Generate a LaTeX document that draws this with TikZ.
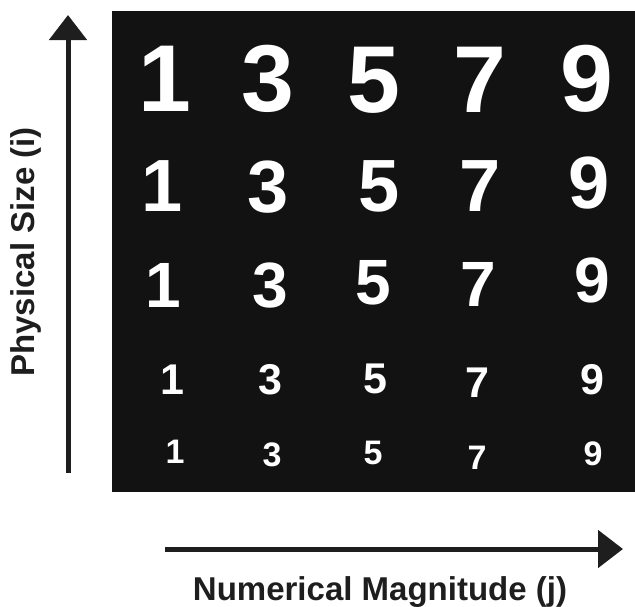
\documentclass[tikz,border=0pt]{standalone}
\usepackage{fontspec}
\setmainfont{Liberation Sans}
\usepackage{tikz}
\usetikzlibrary{arrows.meta}

\definecolor{boardblack}{HTML}{121212}
\definecolor{axisgray}{HTML}{1E1E1E}

\tikzset{
  digit/.style={text=white, inner sep=0pt, font=\bfseries\fontsize{#1}{#1}\selectfont},
  axislabel/.style={text=axisgray, inner sep=0pt, font=\bfseries\fontsize{33}{33}\selectfont},
  axisarrow/.style={line width=5pt, color=axisgray, -{Triangle[width=37pt,length=25pt]}},
}

\begin{document}
\begin{tikzpicture}[x=1pt, y=-1pt]

\useasboundingbox (0,0) rectangle (635,606);

\fill[boardblack] (112,11) rectangle (635,492);

%\foreach \r in {1,...,5} ...
\foreach \n/\x/\y in {1/165/79, 3/268/79, 5/374/80, 7/480/80, 9/587/79} {
    \node[digit=95] (d1\n) at (\x,\y) {\n};
};
\foreach \n/\x/\y in {1/162/186, 3/268/187, 5/379/186, 7/480/186, 9/589/183} {
    \node[digit=74] (d2\n) at (\x,\y) {\n};
};
\foreach \n/\x/\y in {1/163/285, 3/270/286, 5/373/283, 7/478/284, 9/592/280} {
    \node[digit=64] (d3\n) at (\x,\y) {\n};
};
\foreach \n/\x/\y in {1/172/380, 3/270/380, 5/375/379, 7/477/383, 9/592/380} {
    \node[digit=43] (d4\n) at (\x,\y) {\n};
};
\foreach \n/\x/\y in {1/175/452, 3/272/455, 5/373/453, 7/477/458, 9/593/454} {
    \node[digit=34] (d5\n) at (\x,\y) {\n};
};

\coordinate (sizebot) at (68,473);
\coordinate (sizetop) at (68,15);
\coordinate (magleft) at (165,549);
\coordinate (magright) at (623,549);

\draw[axisarrow] (sizebot) -- (sizetop);
\draw[axisarrow] (magleft) -- (magright);

\node[axislabel, rotate=90] (sizelabel) at (26,252) {Physical Size (i)};
\node[axislabel] (maglabel) at (380,592) {Numerical Magnitude (j)};

\end{tikzpicture}
\end{document}
